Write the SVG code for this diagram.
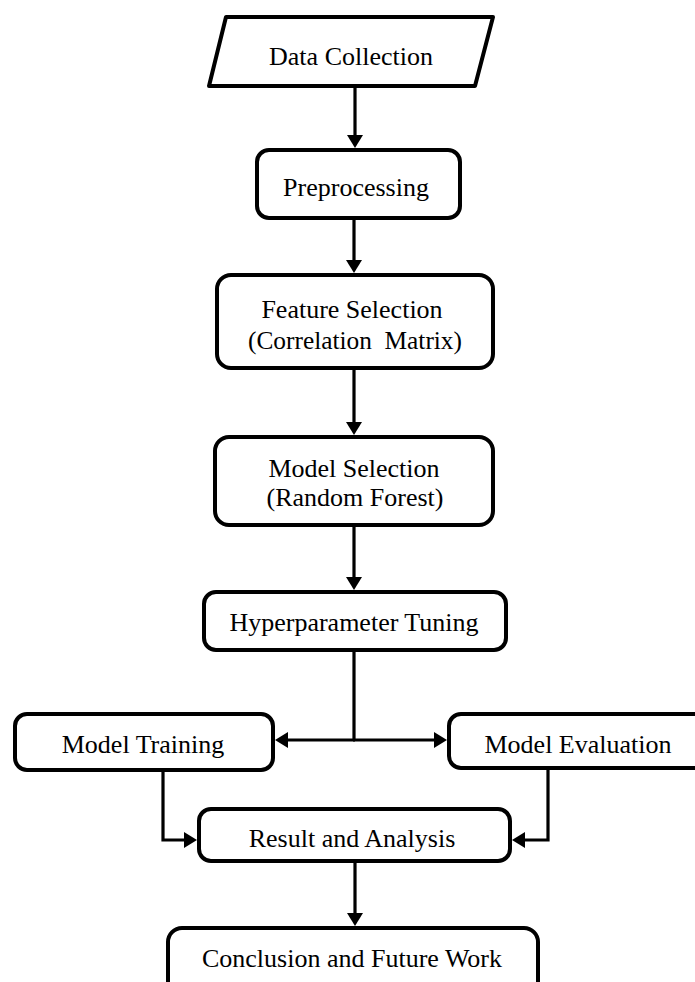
<svg xmlns="http://www.w3.org/2000/svg" width="695" height="982" viewBox="0 0 695 982">
<style>
.box{fill:#fff;stroke:#000;stroke-width:4;stroke-linejoin:round}
.lbl{font-family:"Liberation Serif","Times New Roman",serif;font-size:26px;fill:#000;text-anchor:middle;white-space:pre}
.con{fill:none;stroke:#000;stroke-width:3.2;stroke-linejoin:miter}
</style>
<defs>
<marker id="ah" viewBox="0 0 13 16" markerWidth="13" markerHeight="16" markerUnits="userSpaceOnUse" refX="1" refY="8" orient="auto">
<path d="M0,0 L13,8 L0,16 Z" fill="#000"/>
</marker>
</defs>
<rect width="695" height="982" fill="#fff"/>
<g id="connectors">
<path class="con" d="M355,86 V136" marker-end="url(#ah)"/>
<path class="con" d="M354,218 V261" marker-end="url(#ah)"/>
<path class="con" d="M354,368 V423" marker-end="url(#ah)"/>
<path class="con" d="M354,525 V578" marker-end="url(#ah)"/>
<path class="con" d="M354,650 V740"/>
<path class="con" d="M355,740 H287" marker-end="url(#ah)"/>
<path class="con" d="M353,740 H435" marker-end="url(#ah)"/>
<path class="con" d="M163,770 V840 H185" marker-end="url(#ah)"/>
<path class="con" d="M548,768 V840 H524" marker-end="url(#ah)"/>
<path class="con" d="M355,861 V914" marker-end="url(#ah)"/>
</g>
<g id="data-collection">
<polygon class="box" points="226,17 493,17 475,86 209,86"/>
<text class="lbl" x="351" y="65">Data Collection</text>
</g>
<g id="preprocessing">
<rect class="box" x="257" y="150" width="203" height="68" rx="12"/>
<text class="lbl" x="356" y="196">Preprocessing</text>
</g>
<g id="feature-selection">
<rect class="box" x="217" y="275" width="276" height="93" rx="14"/>
<text class="lbl" x="352" y="318">Feature Selection</text>
<text class="lbl" x="355" y="349" textLength="214" lengthAdjust="spacingAndGlyphs">(Correlation  Matrix)</text>
</g>
<g id="model-selection">
<rect class="box" x="215" y="437" width="278" height="88" rx="14"/>
<text class="lbl" x="354" y="477">Model Selection</text>
<text class="lbl" x="355" y="506">(Random Forest)</text>
</g>
<g id="hyperparameter-tuning">
<rect class="box" x="204" y="592" width="302" height="58" rx="12"/>
<text class="lbl" x="354" y="631">Hyperparameter Tuning</text>
</g>
<g id="model-training">
<rect class="box" x="15" y="714" width="258" height="56" rx="12"/>
<text class="lbl" x="143" y="753">Model Training</text>
</g>
<g id="model-evaluation">
<rect class="box" x="449" y="714" width="262" height="54" rx="12"/>
<text class="lbl" x="578" y="753">Model Evaluation</text>
</g>
<g id="result-analysis">
<rect class="box" x="199" y="809" width="311" height="52" rx="12"/>
<text class="lbl" x="352" y="847">Result and Analysis</text>
</g>
<g id="conclusion">
<rect class="box" x="168" y="928" width="370" height="80" rx="14"/>
<text class="lbl" x="352" y="967">Conclusion and Future Work</text>
</g>
</svg>
